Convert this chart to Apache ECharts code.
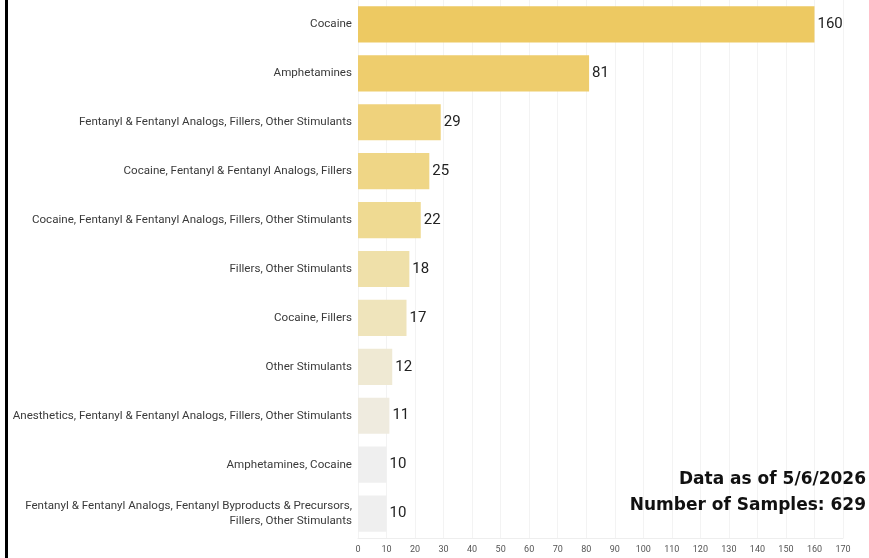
<!DOCTYPE html>
<html>
<head>
<meta charset="utf-8">
<script src="https://cdn.jsdelivr.net/npm/echarts@6/dist/echarts.min.js"></script>
<style>
  html, body { margin: 0; padding: 0; background: #fff; }
  #chart { width: 869px; height: 558px; }
  .edge { position: absolute; left: 5px; top: 0; width: 3px; height: 558px; background: #000; }
</style>
</head>
<body>
<div id="chart"></div>
<div class="edge"></div>
<script>
const categories = [
  "Cocaine",
  "Amphetamines",
  "Fentanyl & Fentanyl Analogs, Fillers, Other Stimulants",
  "Cocaine, Fentanyl & Fentanyl Analogs, Fillers",
  "Cocaine, Fentanyl & Fentanyl Analogs, Fillers, Other Stimulants",
  "Fillers, Other Stimulants",
  "Cocaine, Fillers",
  "Other Stimulants",
  "Anesthetics, Fentanyl & Fentanyl Analogs, Fillers, Other Stimulants",
  "Amphetamines, Cocaine",
  "Fentanyl & Fentanyl Analogs, Fentanyl Byproducts & Precursors,\nFillers, Other Stimulants"
];
const samples = [160, 81, 29, 25, 22, 18, 17, 12, 11, 10, 10];
const barColors = [
  "#edc962", "#eecd6d", "#efd27c", "#efd686", "#efda92", "#efe0a9",
  "#efe4bb", "#efe9d3", "#efebdf", "#efefef", "#efefef"
];
const noteLines = ["Data as of 5/6/2026", "Number of Samples: 629"];

const chart = echarts.init(document.getElementById("chart"));
chart.setOption({
  animation: false,
  backgroundColor: "#fff",
  grid: { left: 358, right: 26, top: 0, bottom: 20 },
  xAxis: {
    type: "value",
    min: 0,
    max: 170,
    interval: 10,
    axisLine: { show: true, lineStyle: { color: "#eeeeee" } },
    axisTick: { show: false },
    axisLabel: { color: "#555", fontSize: 9, fontFamily: "Roboto", margin: 7 },
    splitLine: { show: true, lineStyle: { color: "#f3f3f3" } }
  },
  yAxis: {
    type: "category",
    inverse: true,
    data: categories,
    axisLine: { show: false },
    axisTick: { show: false },
    axisLabel: {
      color: "#3a3a3a",
      fontSize: 11.6,
      fontFamily: "Roboto",
      margin: 6,
      lineHeight: 15,
      align: "right"
    }
  },
  series: [{
    type: "bar",
    barCategoryGap: "26%",
    data: samples.map((v, i) => ({ value: v, itemStyle: { color: barColors[i] } })),
    label: {
      show: true,
      position: "right",
      distance: 3,
      color: "#222",
      fontSize: 15,
      fontFamily: "Roboto"
    }
  }],
  graphic: noteLines.map((t, i) => ({
    type: "text",
    z: 100,
    right: 3,
    top: 471 + i * 26,
    style: {
      text: t,
      fill: "#111",
      font: "bold 17px 'DejaVu Sans'",
      textAlign: "right"
    }
  }))
});
</script>
</body>
</html>
